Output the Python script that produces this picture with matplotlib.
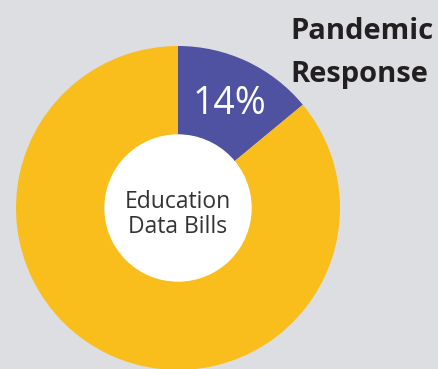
import matplotlib.pyplot as plt

# Data
labels = ['Pandemic Response', 'Other']
shares = [14, 86]
colors = ['#4f51a1', '#f9bd1c']
center_lines = ['Education', 'Data Bills']
title_lines = ['Pandemic', 'Response']
bg = '#dddee2'

H = 369
fig = plt.figure(figsize=(4.38, 3.69), dpi=100, facecolor=bg)
ax = fig.add_axes([0, 0, 1, 1])
ax.set_facecolor(bg)

# work in pixel-like units (y up)
cx, cy, r_out, r_in = 178, H - 208, 162, 73
ax.pie(shares, colors=colors, startangle=90, counterclock=False,
       radius=r_out, center=(cx, cy), frame=True,
       wedgeprops=dict(width=r_out - r_in, linewidth=0))
ax.add_patch(plt.Circle((cx, cy), r_in, color='white', zorder=3))
ax.set_xlim(0, 438)
ax.set_ylim(0, H)
ax.set_aspect('equal')
ax.axis('off')

for line, base in zip(center_lines, [208, 233]):
    ax.text(cx, H - base, line, ha='center', va='baseline', fontsize=16.5,
            family='Open Sans', color='#333333', zorder=4)

ax.text(229, H - 114, f'{shares[0]}%', ha='center', va='baseline',
        fontsize=27, family='Open Sans', color='white', zorder=4)

for line, base in zip(title_lines, [39, 82]):
    ax.text(290, H - base, line, ha='left', va='baseline', fontsize=21,
            family='Open Sans', fontweight='bold', color='#231f20', zorder=4)

fig.savefig('out.png', dpi=100, facecolor=bg)
